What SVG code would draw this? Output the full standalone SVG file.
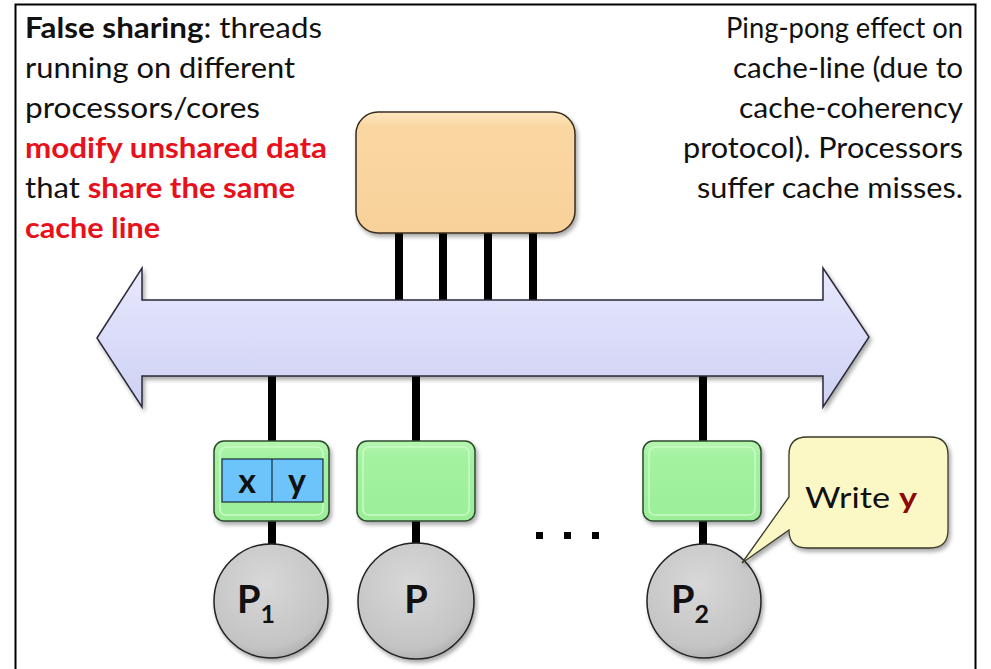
<svg xmlns="http://www.w3.org/2000/svg" width="991" height="669" viewBox="0 0 991 669">
<style>
.t{font-family:Lato,"Liberation Sans",sans-serif;font-size:28px;fill:#111}
.b{font-weight:bold}
.r{fill:#e8101a;font-weight:bold}
.xy{font-family:Lato,"Liberation Sans",sans-serif;font-size:34px;font-weight:bold;fill:#111;text-anchor:middle}
.wire{stroke:#000;stroke-width:8;fill:none}
.cache{fill:url(#gGreen);stroke:#2b4a2b;stroke-width:1.5}
.bevel{fill:none;stroke:#c9fbc6;stroke-width:1.5}
.cpu{fill:url(#gGray);stroke:#222;stroke-width:1.5}
.plabel{font-family:Lato,"Liberation Sans",sans-serif;font-size:38px;font-weight:bold;fill:#111;text-anchor:middle}
</style>
<defs>
<filter id="sh" x="-10%" y="-10%" width="125%" height="130%">
<feDropShadow dx="2" dy="3" stdDeviation="2" flood-color="#000" flood-opacity="0.35"/>
</filter>
<linearGradient id="gOrange" x1="0" y1="0" x2="0" y2="1">
<stop offset="0" stop-color="#fde7c2"/><stop offset="0.12" stop-color="#fad7a2"/><stop offset="1" stop-color="#f8d19a"/>
</linearGradient>
<linearGradient id="gGreen" x1="0" y1="0" x2="0" y2="1">
<stop offset="0" stop-color="#b6f6b2"/><stop offset="0.2" stop-color="#a3f2a0"/><stop offset="1" stop-color="#9cee99"/>
</linearGradient>
<linearGradient id="gBus" x1="0" y1="0" x2="0" y2="1">
<stop offset="0" stop-color="#e8e9fd"/><stop offset="0.5" stop-color="#dadcf9"/><stop offset="1" stop-color="#cfd1f3"/>
</linearGradient>
<radialGradient id="gGray" cx="0.45" cy="0.35" r="0.7">
<stop offset="0" stop-color="#d8d8d8"/><stop offset="0.8" stop-color="#c4c4c4"/><stop offset="1" stop-color="#a8a8a8"/>
</radialGradient>
</defs>
<rect x="0" y="0" width="991" height="669" fill="#fff"/>
<path d="M15.5,680 V4.5 H975.5 V680" fill="none" stroke="#000" stroke-width="2"/>

<g id="text-left">
<text class="t" x="25" y="38" textLength="297" lengthAdjust="spacingAndGlyphs"><tspan class="b">False sharing</tspan>: threads</text>
<text class="t" x="25" y="78" textLength="270" lengthAdjust="spacingAndGlyphs">running on different</text>
<text class="t" x="25" y="118" textLength="235" lengthAdjust="spacingAndGlyphs">processors/cores</text>
<text class="t r" x="25" y="158" textLength="302" lengthAdjust="spacingAndGlyphs">modify unshared data</text>
<text class="t" x="25" y="198" textLength="270" lengthAdjust="spacingAndGlyphs">that <tspan class="r">share the same</tspan></text>
<text class="t r" x="25" y="238" textLength="135" lengthAdjust="spacingAndGlyphs">cache line</text>
</g>
<g id="text-right" text-anchor="end">
<text class="t" x="963" y="38" textLength="237" lengthAdjust="spacingAndGlyphs">Ping-pong effect on</text>
<text class="t" x="963" y="78" textLength="230" lengthAdjust="spacingAndGlyphs">cache-line (due to</text>
<text class="t" x="963" y="118" textLength="224" lengthAdjust="spacingAndGlyphs">cache-coherency</text>
<text class="t" x="963" y="158" textLength="280" lengthAdjust="spacingAndGlyphs">protocol). Processors</text>
<text class="t" x="963" y="198" textLength="266" lengthAdjust="spacingAndGlyphs">suffer cache misses.</text>
</g>

<g id="connectors">
<line class="wire" x1="399" y1="230" x2="399" y2="302"/>
<line class="wire" x1="443" y1="230" x2="443" y2="302"/>
<line class="wire" x1="488" y1="230" x2="488" y2="302"/>
<line class="wire" x1="533" y1="230" x2="533" y2="302"/>
<line class="wire" x1="272" y1="374" x2="272" y2="443"/>
<line class="wire" x1="416" y1="374" x2="416" y2="443"/>
<line class="wire" x1="703" y1="374" x2="703" y2="443"/>
<line class="wire" x1="272" y1="519" x2="272" y2="547"/>
<line class="wire" x1="416" y1="519" x2="416" y2="547"/>
<line class="wire" x1="703" y1="519" x2="703" y2="547"/>
</g>

<g id="memory">
<rect x="356" y="112" width="219" height="121" rx="22" fill="url(#gOrange)" stroke="#3a2e1e" stroke-width="1.5" filter="url(#sh)"/>
</g>

<g id="bus">
<path d="M97,338 L142,268 L142,300 L823,300 L823,268 L869,337 L823,407 L823,376 L142,376 L142,407 Z" fill="url(#gBus)" stroke="#2a2a3a" stroke-width="1.5" stroke-linejoin="miter" filter="url(#sh)"/>
</g>

<g id="cache1">
<rect class="cache" x="214" y="441" width="115" height="80" rx="10" filter="url(#sh)"/>
<rect class="bevel" x="220" y="447" width="103" height="68" rx="6"/>
<rect x="222" y="459" width="101" height="43" fill="#6cc4fb" stroke="#1a2a3a" stroke-width="1.2"/>
<line x1="272" y1="459" x2="272" y2="502" stroke="#1a2a3a" stroke-width="1.2"/>
<text class="xy" x="247" y="493">x</text>
<text class="xy" x="297" y="493">y</text>
</g>
<g id="cache2">
<rect class="cache" x="357" y="441" width="118" height="80" rx="10" filter="url(#sh)"/>
<rect class="bevel" x="363" y="447" width="106" height="68" rx="6"/>
</g>
<g id="cache3">
<rect class="cache" x="643" y="441" width="118" height="80" rx="10" filter="url(#sh)"/>
<rect class="bevel" x="649" y="447" width="106" height="68" rx="6"/>
</g>

<g id="dots" fill="#000">
<rect x="536" y="532" width="7" height="7"/>
<rect x="564" y="532" width="7" height="7"/>
<rect x="592" y="532" width="7" height="7"/>
</g>

<g id="p1">
<circle class="cpu" cx="271" cy="601" r="57" filter="url(#sh)"/>
<text class="plabel" x="256" y="613">P<tspan font-size="25" dy="10">1</tspan></text>
</g>
<g id="p">
<circle class="cpu" cx="416" cy="601" r="58" filter="url(#sh)"/>
<text class="plabel" x="416" y="613">P</text>
</g>
<g id="p2">
<circle class="cpu" cx="704" cy="601" r="57" filter="url(#sh)"/>
<text class="plabel" x="690" y="613">P<tspan font-size="25" dy="10">2</tspan></text>
</g>

<g id="callout">
<path d="M807,437 H930 Q948,437 948,455 V530 Q948,548 930,548 H807 Q789,548 789,530 L742,563 L789,497 V455 Q789,437 807,437 Z" fill="#fbf8c6" stroke="#3a3a2a" stroke-width="1.3" filter="url(#sh)"/>
<text class="t" x="805" y="508" textLength="112" lengthAdjust="spacingAndGlyphs">Write <tspan fill="#8b0a0a" font-weight="bold">y</tspan></text>
</g>
</svg>
